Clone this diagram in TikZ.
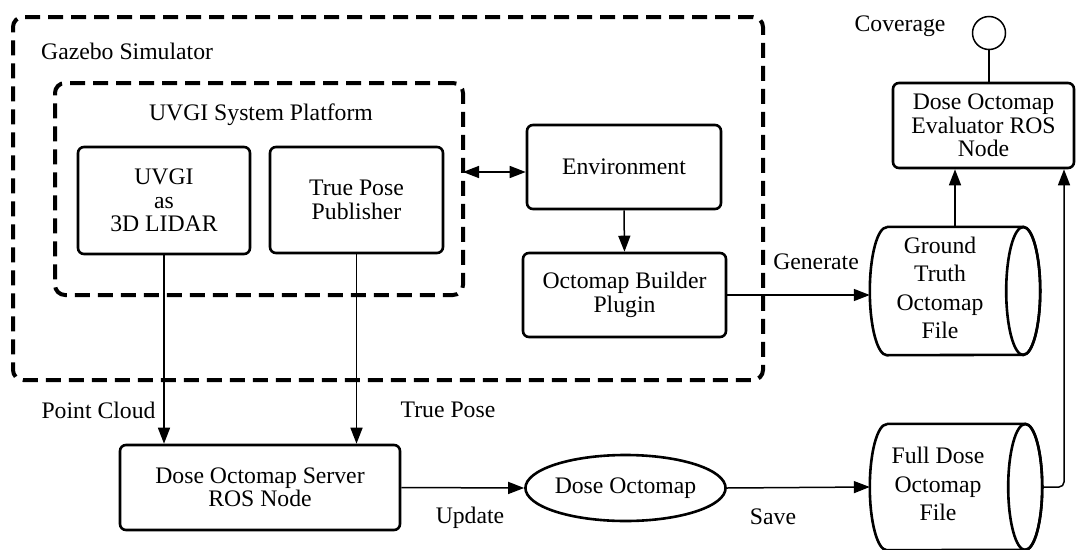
\documentclass[tikz,border=0pt]{standalone}
\usepackage{fontspec}
\setmainfont{Liberation Serif}
\usetikzlibrary{arrows.meta,shapes.geometric}
\newcommand{\dfnt}{\fontsize{23.7}{23.5}\selectfont}
\newcommand{\cfnt}{\fontsize{23.7}{28.4}\selectfont}
\tikzset{
  box/.style={draw, line width=2.6pt, rounded corners=6pt, align=center, font=\dfnt, inner sep=0pt},
  group/.style={draw, line width=4pt, dash pattern=on 15pt off 8pt, rounded corners=10pt, inner sep=0pt},
  lbl/.style={font=\dfnt, inner sep=0pt},
  arr/.style={line width=1.5pt, -{Triangle[length=16pt,width=12pt]}},
  darr/.style={line width=1.5pt, {Triangle[length=16pt,width=12pt]}-{Triangle[length=16pt,width=12pt]}},
  plain/.style={line width=1.5pt},
  cylbody/.style={draw=none, inner sep=0pt},
  cylline/.style={line width=2.6pt},
}
\begin{document}
\begin{tikzpicture}[x=1pt,y=-1pt]
\useasboundingbox (0,0) rectangle (1076,549);
% groups
\node[group, minimum width=750pt, minimum height=363pt] (gazebo) at (388,198.5) {};
\node[lbl, anchor=west] (gazebolbl) at (41,51) {Gazebo Simulator};
\node[group, minimum width=408pt, minimum height=212pt] (platform) at (259,189) {};
\node[lbl] (platformlbl) at (261,115) {UVGI System Platform};
% boxes
\node[box, minimum width=172pt, minimum height=107pt] (uvgi) at (164,200.5) {UVGI\\as\\3D LIDAR};
\node[box, minimum width=173pt, minimum height=106pt] (tpp) at (356.5,200) {True Pose\\Publisher};
\node[box, minimum width=194pt, minimum height=84pt] (env) at (624,167) {Environment};
\node[box, minimum width=203pt, minimum height=84pt] (builder) at (624.5,295) {Octomap Builder\\Plugin};
\node[box, minimum width=280pt, minimum height=85pt] (server) at (260,487.5) {Dose Octomap Server\\ROS Node};
\node[draw, ellipse, line width=2.6pt, minimum width=177pt, minimum height=66pt, inner sep=0pt, font=\dfnt] (dose) at (625.5,488) {Dose Octomap};
\node[box, minimum width=181pt, minimum height=85pt] (eval) at (983.5,125.5) {Dose Octomap\\Evaluator ROS\\Node};
\node[draw, circle, line width=1.5pt, minimum size=33pt, inner sep=0pt] (cov) at (989,33) {};
\node[lbl] (covlbl) at (900,26) {Coverage};
% cylinders
\node[cylbody, minimum width=170pt, minimum height=128pt] (gt) at (955,291) {};
\draw[cylline] ([xshift=17pt]gt.north west) -- ([xshift=-17pt]gt.north east)
  arc[start angle=90, end angle=-90, x radius=17pt, y radius=64pt]
  -- ([xshift=17pt]gt.south west)
  arc[start angle=270, end angle=90, x radius=17pt, y radius=64pt];
\draw[cylline] ([xshift=-17pt]gt.east) ellipse[x radius=17pt, y radius=64pt];
\node[align=center, font=\cfnt, inner sep=0pt] (gttext) at ([xshift=-15pt,yshift=3pt]gt.center) {Ground\\Truth\\Octomap\\File};
\node[cylbody, minimum width=172pt, minimum height=126pt] (full) at (956,487) {};
\draw[cylline] ([xshift=17pt]full.north west) -- ([xshift=-17pt]full.north east)
  arc[start angle=90, end angle=-90, x radius=17pt, y radius=63pt]
  -- ([xshift=17pt]full.south west)
  arc[start angle=270, end angle=90, x radius=17pt, y radius=63pt];
\draw[cylline] ([xshift=-17pt]full.east) ellipse[x radius=17pt, y radius=63pt];
\node[align=center, font=\cfnt, inner sep=0pt] (fulltext) at ([xshift=-18pt,yshift=3pt]full.center) {Full Dose\\Octomap\\File};
% labels
\node[lbl] (pclbl) at (98.5,410) {Point Cloud};
\node[lbl] (tplbl) at (448,410) {True Pose};
\node[lbl] (genlbl) at (816,262) {Generate};
\node[lbl] (updlbl) at (470,518) {Update};
\node[lbl] (savelbl) at (773,517) {Save};
% connectors
\coordinate (dstart) at (463,172);
\draw[darr] (dstart) -- (dstart -| env.west);
\draw[arr] (env.south) -- (builder.north);
\draw[arr] (builder.east) -- (builder.east -| gt.west);
\draw[arr] (uvgi.south) -- (uvgi.south |- server.north);
\draw[arr] (tpp.south) -- (tpp.south |- server.north);
\draw[arr] (server.east) -- (dose.west);
\draw[arr] (dose.east) -- (full.west);
\draw[arr] (gt.north) -- (gt.north |- eval.south);
\coordinate (bend) at (1064,487);
\draw[arr, rounded corners=5pt] (full.east) -- (bend) -- (bend |- eval.south);
\draw[plain] (cov.south) -- (cov.south |- eval.north);
\end{tikzpicture}
\end{document}
